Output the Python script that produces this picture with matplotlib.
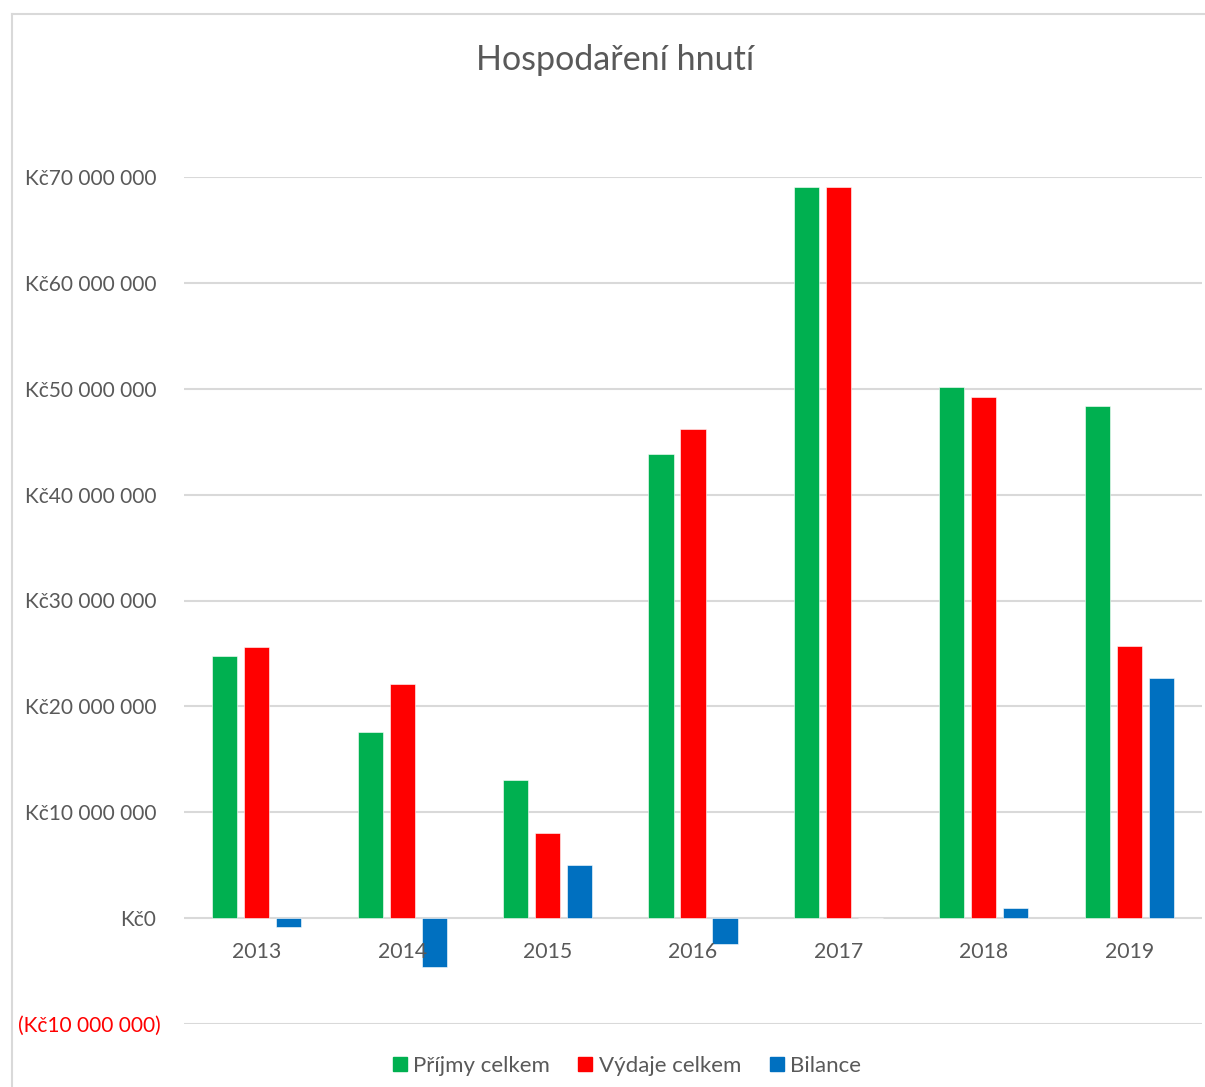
import numpy as np
import matplotlib.pyplot as plt
import matplotlib.transforms as mtransforms
from matplotlib.lines import Line2D
from matplotlib.ticker import FuncFormatter

plt.rcParams['font.family'] = ['Lato', 'DejaVu Sans']

# data (Kč)
years = ['2013', '2014', '2015', '2016', '2017', '2018', '2019']
prijmy = [24.8e6, 17.6e6, 13.0e6, 43.8e6, 69.1e6, 50.2e6, 48.4e6]
vydaje = [25.6e6, 22.1e6, 8.0e6, 46.2e6, 69.1e6, 49.2e6, 25.7e6]
bilance = [-0.85e6, -4.6e6, 5.0e6, -2.4e6, 0.05e6, 0.95e6, 22.7e6]

series = [('Příjmy celkem', prijmy, '#00b050'),
          ('Výdaje celkem', vydaje, '#ff0000'),
          ('Bilance', bilance, '#0070c0')]

text_col = '#595959'
grid_col = '#d9d9d9'

fig = plt.figure(figsize=(12.05, 10.87), dpi=100)
ax = fig.add_axes([184 / 1205, 1 - 1024 / 1087, 1018 / 1205, 847 / 1087])

x = np.arange(len(years))
w = 0.172
step = 0.22
for i, (name, vals, col) in enumerate(series):
    ax.bar(x + (i - 1) * step, vals, width=w, color=col, zorder=3,
           edgecolor='white', linewidth=0.4, label=name)

ax.set_xlim(-0.5, len(years) - 0.5)
ax.set_ylim(-10e6, 70e6)
ax.set_yticks(np.arange(-10e6, 70e6 + 1, 10e6))


def fmt(v, pos):
    s = f'{abs(v):,.0f}'.replace(',', ' ')
    return f'(Kč{s})' if v < 0 else f'Kč{s}'


ax.yaxis.set_major_formatter(FuncFormatter(fmt))
ax.tick_params(axis='y', length=0, pad=20, labelsize=15, labelcolor=text_col)
fig.canvas.draw()
for lab in ax.get_yticklabels():
    if lab.get_text().startswith('('):
        lab.set_color('#ff0000')
        # negative label hangs a bit further right, like in Excel
        lab.set_transform(lab.get_transform() +
                          mtransforms.ScaledTranslation(5 / 100, 0, fig.dpi_scale_trans))
ax.set_xticks([])
ax.grid(axis='y', color=grid_col, linewidth=1.5, zorder=0)
for sp in ax.spines.values():
    sp.set_visible(False)

# category labels sit below the zero line
for xi, yr in zip(x, years):
    ax.annotate(yr, (xi, 0), xytext=(0, -17), textcoords='offset points',
                ha='center', va='top', fontsize=15.3, color=text_col)

fig.text(615 / 1205, 1 - 60 / 1087, 'Hospodaření hnutí', ha='center', va='center',
         fontsize=24.5, color=text_col)

handles = [Line2D([], [], marker='s', linestyle='none', markersize=10,
                  markerfacecolor=c, markeredgecolor=c) for _, _, c in series]
fig.legend(handles, [s[0] for s in series], loc='center',
           bbox_to_anchor=(627 / 1205, 1 - 1066 / 1087), ncol=3, frameon=False,
           fontsize=16, labelcolor=text_col, handlelength=0.6, handletextpad=0.3,
           columnspacing=1.3)

# chart-area border (cropped at right and bottom)
fig.add_artist(Line2D([12 / 1205, 12 / 1205], [0, 1 - 14 / 1087],
                      transform=fig.transFigure, color=grid_col, linewidth=1.5))
fig.add_artist(Line2D([12 / 1205, 1], [1 - 14 / 1087, 1 - 14 / 1087],
                      transform=fig.transFigure, color=grid_col, linewidth=1.5))

fig.savefig('out.png', dpi=100)
